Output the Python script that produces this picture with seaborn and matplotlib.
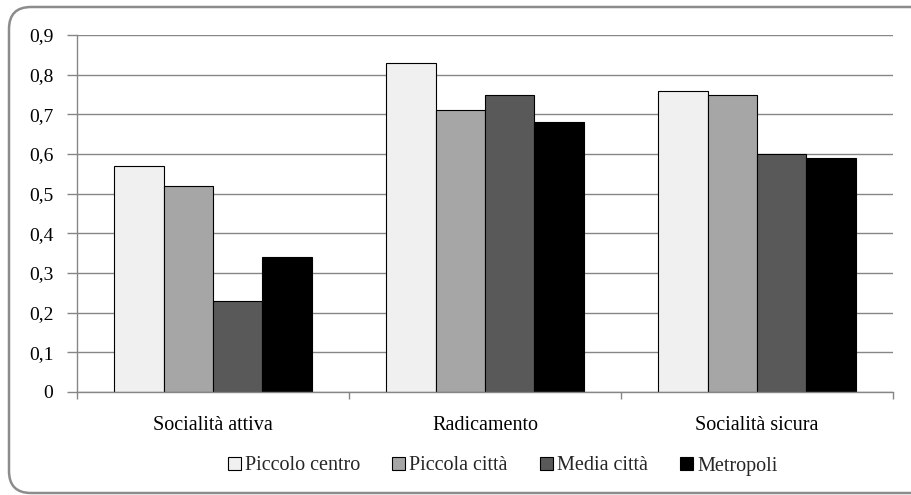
import matplotlib
matplotlib.use("Agg")
import matplotlib.pyplot as plt
from matplotlib.patches import FancyBboxPatch
from matplotlib.ticker import FuncFormatter, FixedLocator
import seaborn as sns
import pandas as pd

categories = ["Socialità attiva", "Radicamento", "Socialità sicura"]
series = ["Piccolo centro", "Piccola città", "Media città", "Metropoli"]
piccolo_centro = [0.57, 0.83, 0.76]
piccola_citta = [0.52, 0.71, 0.75]
media_citta = [0.23, 0.75, 0.60]
metropoli = [0.34, 0.68, 0.59]
colors = ["#f0f0f0", "#a6a6a6", "#595959", "#000000"]
y_ticks = [0, 0.1, 0.2, 0.3, 0.4, 0.5, 0.6, 0.7, 0.8, 0.9]

rows = []
for name, vals in zip(series, [piccolo_centro, piccola_citta, media_citta, metropoli]):
    for cat, v in zip(categories, vals):
        rows.append({"categoria": cat, "tipo": name, "valore": v})
df = pd.DataFrame(rows)

sns.set_theme(style="white")
plt.rcParams["font.family"] = ["Liberation Serif", "DejaVu Serif"]

fig = plt.figure(figsize=(9.12, 4.95), dpi=100)
ax = fig.add_axes([77 / 912, 1 - 392 / 495, (893 - 77) / 912, (392 - 35) / 495])

sns.barplot(data=df, x="categoria", y="valore", hue="tipo", order=categories,
            hue_order=series, palette=colors, width=0.725, edgecolor="black",
            linewidth=0.8, saturation=1, ax=ax, legend=True)

ax.set_xlim(-0.5, 2.5)
ax.set_ylim(0, 0.9)
ax.set_yticks(y_ticks)
ax.yaxis.set_major_formatter(FuncFormatter(lambda v, p: "0" if v == 0 else f"{v:.1f}".replace(".", ",")))
ax.yaxis.grid(True, color="#868686", linewidth=1.0)
ax.set_axisbelow(True)
ax.set_xlabel("")
ax.set_ylabel("")

for side in ["top", "right"]:
    ax.spines[side].set_visible(False)
for side in ["left", "bottom"]:
    ax.spines[side].set_color("#868686")
    ax.spines[side].set_linewidth(1.0)

ax.tick_params(axis="y", which="major", left=True, length=7, width=1.0,
               color="#868686", labelsize=14, pad=10, labelcolor="black")
ax.tick_params(axis="x", which="major", bottom=False, labelsize=14.5, pad=11,
               labelcolor="black")
ax.xaxis.set_minor_locator(FixedLocator([-0.5, 0.5, 1.5, 2.5]))
ax.tick_params(axis="x", which="minor", bottom=True, length=5, width=1.0,
               color="#868686")

leg = ax.legend(loc="center", bbox_to_anchor=(0.551, 1 - 466 / 495),
                bbox_transform=fig.transFigure, ncol=4, frameon=False,
                fontsize=14.5, handlelength=0.65, handleheight=0.65,
                handletextpad=0.2, columnspacing=1.6)
for h in leg.legend_handles:
    h.set_edgecolor("black")
    h.set_linewidth(0.8)

border = FancyBboxPatch((0.09, 0.02), 9.3, 4.86,
                        boxstyle="round,pad=0,rounding_size=0.22",
                        transform=fig.dpi_scale_trans, facecolor="none",
                        edgecolor="#8c8c8c", linewidth=1.8, clip_on=False)
fig.patches.append(border)

fig.savefig("out.png", dpi=100)
